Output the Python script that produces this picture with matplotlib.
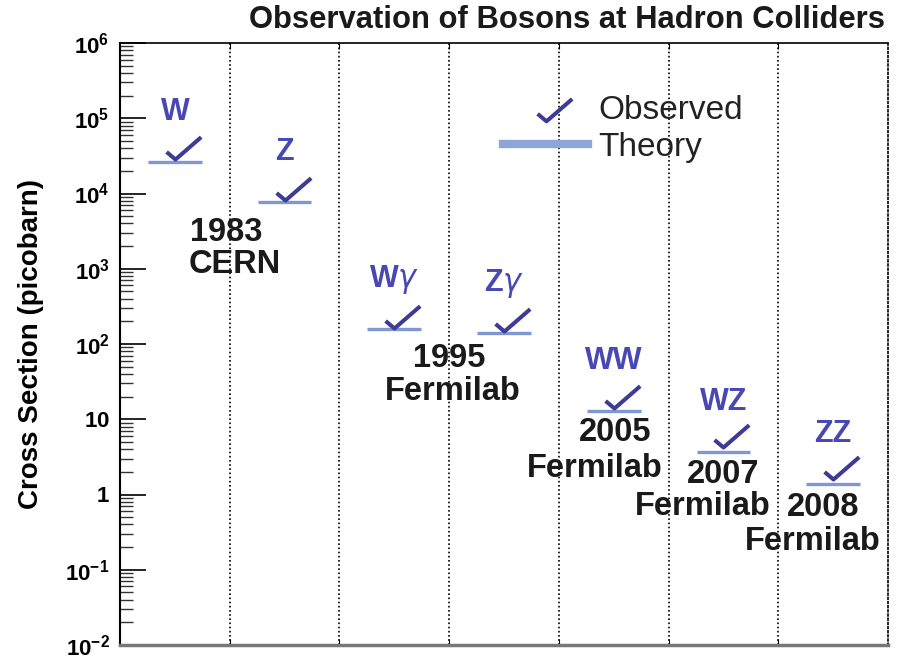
import numpy as np
import matplotlib
matplotlib.use("Agg")
import matplotlib.pyplot as plt
from matplotlib.path import Path
from matplotlib.lines import Line2D
from matplotlib.ticker import LogLocator, FixedLocator, FuncFormatter, NullFormatter

plt.rcParams['font.family'] = ['Liberation Sans', 'DejaVu Sans']
plt.rcParams['mathtext.fontset'] = 'custom'
plt.rcParams['mathtext.rm'] = 'Liberation Sans'
plt.rcParams['mathtext.bf'] = 'Liberation Sans:bold'

# data (picobarn)
bosons = ['W', 'Z', r'W$\gamma$', r'Z$\gamma$', 'WW', 'WZ', 'ZZ']
theory = [2.6e4, 7.8e3, 158, 140, 13, 3.7, 1.4]
observed = [2.9e4, 8.3e3, 163, 149, 14.2, 4.3, 1.63]
yticks = [1e-2, 1e-1, 1, 10, 1e2, 1e3, 1e4, 1e5, 1e6]

# discovery year / lab labels and where they sit
years = ['1983', '1995', '2005', '2007', '2008']
year_x = [0.47, 2.50, 4.01, 5.00, 5.91]
year_y = [3.05e3, 64, 6.6, 1.82, 0.664]
labs = ['CERN', 'Fermilab', 'Fermilab', 'Fermilab', 'Fermilab']
lab_x = [0.55, 2.53, 3.83, 4.81, 5.81]
lab_y = [1.14e3, 23.2, 2.19, 0.684, 0.234]

check_col = '#3c3c96'
label_col = '#4848b4'
theory_col = '#7f98d2'

# check mark drawn as a marker, vertex sits on the observed value
check = Path([(-9, 7.6), (0, 0), (26, 22.6)], [Path.MOVETO, Path.LINETO, Path.LINETO])
# same mark, dropped a little for the legend
check_leg = Path([(-9, -6.4), (0, -14), (26, 8.6)], [Path.MOVETO, Path.LINETO, Path.LINETO])

fig = plt.figure(figsize=(8.99, 6.62), dpi=100)
ax = fig.add_axes([120/899, 17/662, 768/899, 602/662])

x = np.arange(len(bosons))
ax.hlines(theory, x - 0.245, x + 0.245, color=theory_col, lw=2.4, zorder=2)
ax.plot(x, observed, ls='none', marker=check, ms=37, mec=check_col, mfc='none', mew=2.9, zorder=3)

for i, name in enumerate(bosons):
    ax.annotate(name, xy=(i, theory[i]), xytext=(0, 36), textcoords='offset points',
                ha='center', va='center', fontsize=22, fontweight='bold', color=label_col,
                math_fontfamily='dejavusans')

for t, tx, ty in zip(years + labs, year_x + lab_x, year_y + lab_y):
    ax.text(tx, ty, t, ha='center', va='center', fontsize=23.5, fontweight='bold', color='#1a1a1a')

ax.set_yscale('log')
ax.set_ylim(yticks[0], yticks[-1])
ax.set_xlim(-0.5, 6.5)

# y ticks
def fmt(v, pos):
    e = int(round(np.log10(v)))
    if e == 0:
        return r'$\mathbf{1}$'
    if e == 1:
        return r'$\mathbf{10}$'
    return r'$\mathbf{10^{%d}}$' % e

ax.yaxis.set_major_locator(FixedLocator(yticks))
ax.yaxis.set_minor_locator(LogLocator(base=10, subs=np.arange(2, 10), numticks=100))
ax.yaxis.set_major_formatter(FuncFormatter(fmt))
ax.yaxis.set_minor_formatter(NullFormatter())
ax.tick_params(axis='y', which='major', direction='in', length=19, width=1.2, labelsize=16, pad=7.5)
ax.tick_params(axis='y', which='minor', direction='in', length=9.5, width=1.0, color='#333333')

# column separators
ax.xaxis.set_major_locator(FixedLocator(np.arange(0.5, 6.0, 1.0)))
ax.set_xticklabels([])
ax.tick_params(axis='x', which='major', direction='in', length=4, top=True)
ax.grid(axis='x', color='black', ls=(0, (1, 1.5)), lw=1.2)

ax.spines['left'].set_linewidth(1.5)
ax.spines['top'].set_linewidth(1.2)
ax.spines['bottom'].set_linewidth(2.5)
ax.spines['bottom'].set_color('#777777')
ax.spines['right'].set_linestyle((0, (1, 1.5)))
ax.spines['right'].set_linewidth(1.2)

ax.set_ylabel('Cross Section (picobarn)', fontsize=20, fontweight='bold')
ax.yaxis.set_label_coords(-0.099, 0.5)
fig.text(885/899, 1 - 20/662, 'Observation of Bosons at Hadron Colliders', ha='right', va='center',
         fontsize=22.3, fontweight='bold', color='#1a1a1a')

handles = [Line2D([], [], ls='none', marker=check_leg, ms=37, mec=check_col, mfc='none', mew=2.9),
           Line2D([], [], color='#8ea5d9', lw=6)]
ax.legend(handles, ['Observed', 'Theory'], loc='upper left', bbox_to_anchor=(503/899, 1 - 95/662),
          bbox_transform=fig.transFigure, frameon=False, fontsize=24, handlelength=2.55,
          handletextpad=0.3, labelspacing=0.17, borderpad=0, borderaxespad=0, labelcolor='#222222')

fig.savefig('out.png', dpi=100)
